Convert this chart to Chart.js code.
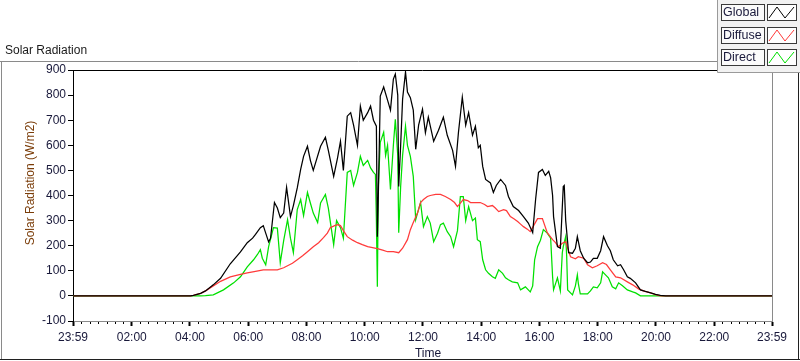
<!DOCTYPE html>
<html>
<head>
<meta charset="utf-8">
<script src="https://cdn.jsdelivr.net/npm/chart.js@4/dist/chart.umd.min.js"></script>
<style>
  html, body { margin: 0; padding: 0; background: #fff; }
  #wrap { width: 800px; height: 361px; }
</style>
</head>
<body>
<div id="wrap"><canvas id="myChart" width="800" height="361"></canvas></div>
<script>
// Series: time of day (HH:MM) and W/m2
var globalTimes = [
  '00:00','04:01','04:07','04:22','04:32','04:48','05:03','05:23','05:44','05:58',
  '06:09','06:15','06:25','06:31','06:36','06:42','06:46','06:54','07:00','07:06',
  '07:13','07:19','07:27','07:33','07:41','07:48','07:54','08:02','08:08','08:14',
  '08:29','08:39','08:45','08:56','09:04','09:10','09:16','09:24','09:31','09:37',
  '09:45','09:51','09:57','10:06','10:12','10:18','10:24','10:26','10:28','10:32',
  '10:39','10:47','10:53','10:59','11:03','11:08','11:10','11:14','11:18','11:24',
  '11:28','11:34','11:40','11:45','11:51','11:59','12:05','12:11','12:22','12:32',
  '12:42','12:50','13:01','13:07','13:13','13:21','13:28','13:34','13:42','13:48',
  '13:54','13:58','14:03','14:09','14:19','14:25','14:31','14:40','14:50','14:56',
  '15:06','15:17','15:27','15:37','15:46','15:52','15:58','16:06','16:12','16:19',
  '16:23','16:27','16:29','16:37','16:43','16:49','16:51','16:54','17:00','17:08',
  '17:14','17:18','17:24','17:31','17:39','17:45','17:51','17:59','18:06','18:12',
  '18:20','18:26','18:32','18:41','18:47','18:53','19:01','19:07','19:18','19:28',
  '19:38','19:49','19:59','20:09','20:20','23:59'
];
var globalValues = [
  0, 0, 2, 10, 20, 44, 70, 128, 175, 212,
  230, 245, 272, 280, 250, 215, 230, 372, 350, 312,
  330, 432, 316, 360, 430, 504, 556, 596, 540, 500,
  596, 632, 580, 476, 550, 616, 500, 716, 730, 680,
  600, 756, 700, 730, 756, 700, 676, 236, 400, 796,
  832, 780, 740, 864, 884, 800, 436, 600, 784, 892,
  812, 790, 740, 584, 680, 744, 650, 712, 616, 660,
  712, 640, 580, 516, 650, 792, 680, 730, 640, 676,
  590, 600, 516, 464, 450, 412, 440, 464, 440, 396,
  356, 340, 316, 290, 252, 384, 492, 504, 480, 496,
  470, 400, 316, 196, 190, 436, 440, 300, 172, 170,
  190, 236, 180, 150, 132, 135, 150, 150, 180, 236,
  200, 180, 144, 120, 124, 105, 76, 70, 52, 24,
  18, 12, 6, 2, 0, 0
];

var diffuseTimes = [
  '00:00','04:01','04:07','04:22','04:32','04:48','05:03','05:23','05:44','05:58',
  '06:15','06:31','06:46','07:00','07:13','07:21','07:31','07:41','07:52','08:02',
  '08:14','08:25','08:35','08:43','08:49','08:58','09:04','09:10','09:16','09:24',
  '09:35','09:45','09:55','10:06','10:16','10:26','10:37','10:47','10:59','11:10',
  '11:18','11:28','11:34','11:40','11:49','11:55','12:01','12:09','12:15','12:26',
  '12:36','12:46','12:57','13:05','13:11','13:17','13:23','13:32','13:38','13:48',
  '13:58','14:07','14:13','14:23','14:29','14:36','14:46','14:52','15:00','15:08',
  '15:15','15:21','15:27','15:35','15:41','15:48','15:56','16:06','16:16','16:27',
  '16:33','16:39','16:47','16:54','16:58','17:04','17:14','17:20','17:31','17:39',
  '17:49','17:59','18:10','18:18','18:26','18:37','18:47','19:01','19:12','19:24',
  '19:34','19:49','19:59','20:09','23:59'
];
var diffuseValues = [
  0, 0, 2, 10, 20, 40, 58, 76, 86, 92,
  98, 104, 104, 104, 112, 120, 130, 144, 160, 176,
  196, 212, 232, 250, 272, 280, 284, 280, 260, 236,
  222, 212, 204, 196, 192, 188, 182, 176, 176, 172,
  190, 224, 264, 292, 332, 372, 384, 396, 400, 404,
  404, 396, 384, 372, 356, 370, 384, 380, 372, 372,
  372, 364, 356, 360, 350, 336, 344, 340, 316, 306,
  296, 286, 276, 266, 256, 280, 308, 308, 252, 224,
  212, 196, 210, 216, 190, 156, 148, 156, 150, 124,
  112, 120, 132, 125, 104, 76, 72, 56, 44, 28,
  20, 12, 5, 0, 0
];

var directTimes = [
  '00:00','04:22','04:32','04:48','05:09','05:30','05:44','05:58','06:11','06:19',
  '06:25','06:29','06:36','06:42','06:52','07:00','07:06','07:13','07:21','07:27',
  '07:33','07:41','07:48','07:54','08:02','08:08','08:14','08:23','08:29','08:39',
  '08:45','08:56','09:02','09:10','09:16','09:24','09:31','09:37','09:45','09:51',
  '09:57','10:06','10:12','10:18','10:22','10:24','10:26','10:28','10:32','10:39',
  '10:43','10:47','10:53','10:59','11:03','11:08','11:10','11:14','11:18','11:24',
  '11:28','11:34','11:40','11:45','11:49','11:55','12:01','12:09','12:15','12:22',
  '12:30','12:36','12:42','12:50','12:57','13:03','13:11','13:17','13:23','13:28',
  '13:34','13:42','13:48','13:52','13:58','14:03','14:09','14:15','14:23','14:29',
  '14:36','14:44','14:50','14:56','15:04','15:15','15:21','15:31','15:37','15:41',
  '15:46','15:50','15:56','16:02','16:08','16:16','16:23','16:27','16:29','16:37',
  '16:43','16:47','16:49','16:54','16:56','16:58','17:08','17:14','17:18','17:20',
  '17:24','17:39','17:45','17:51','17:59','18:06','18:10','18:16','18:22','18:30',
  '18:37','18:43','18:51','19:01','19:12','19:18','19:28','23:59'
];
var directValues = [
  0, 0, 1, 4, 24, 52, 76, 116, 144, 165,
  184, 150, 124, 196, 272, 270, 132, 220, 304, 230,
  172, 344, 384, 320, 412, 370, 330, 292, 370, 404,
  350, 204, 300, 272, 230, 492, 500, 440, 492, 556,
  520, 540, 510, 492, 484, 300, 36, 436, 612, 652,
  560, 600, 424, 600, 704, 560, 252, 436, 560, 676,
  600, 556, 476, 304, 332, 372, 276, 316, 290, 216,
  250, 284, 290, 256, 236, 196, 260, 396, 396, 300,
  356, 300, 310, 224, 216, 144, 104, 90, 76, 70,
  104, 90, 72, 64, 56, 52, 24, 36, 24, 16,
  40, 144, 196, 222, 264, 250, 230, 76, 24, 72,
  20, 172, 196, 236, 160, 24, 4, 40, 84, 50,
  8, 8, 20, 36, 32, 52, 96, 84, 72, 36,
  28, 52, 40, 24, 16, 12, 0, 0
];

var seriesNames = ['Global', 'Diffuse', 'Direct'];
var seriesColors = ['#000000', '#ff3a3a', '#00e000'];

var yTicks = [-100, 0, 100, 200, 300, 400, 500, 600, 700, 800, 900];
var xTickLabels = ['23:59', '02:00', '04:00', '06:00', '08:00', '10:00', '12:00',
                   '14:00', '16:00', '18:00', '20:00', '22:00', '23:59'];

// minutes since midnight; the axis runs 23:59 -> 23:59
function toMinutes(t) {
    var p = t.split(':');
    return parseInt(p[0], 10) * 60 + parseInt(p[1], 10);
}
var xMin = -1, xMax = 1439;
var xTickValues = xTickLabels.map(function (l, i) {
    if (i === 0) return xMin;
    if (i === xTickLabels.length - 1) return xMax;
    return toMinutes(l);
});

function points(times, values) {
    return times.map(function (t, i) { return { x: toMinutes(t), y: values[i] }; });
}

var textColor = '#18183a';
var fontName = '"Liberation Sans", Arial, sans-serif';

// frame, extra ticks, titles and legend boxes drawn like the LabVIEW panel
var panelPlugin = {
    id: 'panel',
    beforeDraw: function (chart) {
        var ctx = chart.ctx;
        ctx.save();
        ctx.fillStyle = '#ffffff';
        ctx.fillRect(0, 0, chart.width, chart.height);
        ctx.restore();
    },
    afterDraw: function (chart) {
        var ctx = chart.ctx;
        var a = chart.chartArea;
        var xs = chart.scales.x;
        ctx.save();

        // outer frame
        ctx.lineWidth = 1;
        ctx.strokeStyle = '#8a8a8a';
        ctx.beginPath();
        ctx.moveTo(0, 61.5); ctx.lineTo(717, 61.5);
        ctx.moveTo(1.5, 61); ctx.lineTo(1.5, 360);
        ctx.stroke();
        ctx.strokeStyle = '#202020';
        ctx.beginPath();
        ctx.moveTo(0, 359.5); ctx.lineTo(800, 359.5);
        ctx.moveTo(798.5, 72); ctx.lineTo(798.5, 360);
        ctx.stroke();

        // plot top (black) and right (gray) edges
        ctx.strokeStyle = '#000';
        ctx.beginPath();
        ctx.moveTo(a.left, Math.round(a.top) + 0.5);
        ctx.lineTo(a.right, Math.round(a.top) + 0.5);
        ctx.stroke();
        ctx.strokeStyle = '#8a8a8a';
        ctx.beginPath();
        ctx.moveTo(Math.round(a.right) + 0.5, a.top);
        ctx.lineTo(Math.round(a.right) + 0.5, a.bottom);
        ctx.stroke();

        // minor ticks on the time axis
        ctx.strokeStyle = '#000';
        ctx.beginPath();
        for (var i = 0; i < xTickValues.length - 1; i++) {
            var v0 = xTickValues[i], v1 = xTickValues[i + 1];
            for (var k = 1; k < 7; k++) {
                var px = Math.round(xs.getPixelForValue(v0 + (v1 - v0) * k / 7)) + 0.5;
                ctx.moveTo(px, a.bottom + 1);
                ctx.lineTo(px, a.bottom + 3);
            }
        }
        ctx.stroke();

        // titles
        ctx.font = '12px ' + fontName;
        ctx.textBaseline = 'middle';
        ctx.fillStyle = '#1a1a1a';
        ctx.textAlign = 'left';
        ctx.fillText('Solar Radiation', 5, 51);
        ctx.fillStyle = textColor;
        ctx.textAlign = 'center';
        ctx.fillText('Time', 428, 354);
        ctx.save();
        ctx.translate(31, 183);
        ctx.rotate(-Math.PI / 2);
        ctx.fillStyle = '#7a3c08';
        ctx.fillText('Solar Radiation (W/m2)', 0, 0);
        ctx.restore();

        // legend panel
        ctx.fillStyle = '#f2f2f2';
        ctx.fillRect(717, 0, 83, 72);
        ctx.strokeStyle = '#9a9a9a';
        ctx.beginPath();
        ctx.moveTo(717.5, 0); ctx.lineTo(717.5, 72.5); ctx.lineTo(800, 72.5);
        ctx.stroke();
        ctx.font = '12.5px ' + fontName;
        for (var r = 0; r < seriesNames.length; r++) {
            var y0 = 4 + Math.round(r * 22.5);
            ctx.fillStyle = '#fbfbfb';
            ctx.fillRect(721, y0, 43, 16);
            ctx.strokeStyle = '#3a3a3a';
            ctx.strokeRect(721.5, y0 + 0.5, 43, 16);
            ctx.fillStyle = textColor;
            ctx.textAlign = 'left';
            ctx.fillText(seriesNames[r], 723, y0 + 9);
            ctx.fillStyle = '#ffffff';
            ctx.fillRect(767, y0, 29, 16);
            ctx.strokeStyle = '#3a3a3a';
            ctx.strokeRect(767.5, y0 + 0.5, 29, 16);
            ctx.strokeStyle = seriesColors[r];
            ctx.beginPath();
            ctx.moveTo(769, y0 + 14);
            ctx.lineTo(777, y0 + 3);
            ctx.lineTo(785, y0 + 14);
            ctx.lineTo(794, y0 + 3);
            ctx.stroke();
        }
        ctx.restore();
    }
};

var element = document.getElementById('myChart').getContext('2d');

var chartData = {
    datasets: [
        { label: seriesNames[0], data: points(globalTimes, globalValues) },
        { label: seriesNames[1], data: points(diffuseTimes, diffuseValues) },
        { label: seriesNames[2], data: points(directTimes, directValues) }
    ].map(function (d, i) {
        d.borderColor = seriesColors[i];
        d.backgroundColor = seriesColors[i];
        d.borderWidth = 1.25;
        d.pointRadius = 0;
        d.tension = 0;
        d.fill = false;
        return d;
    })
};

var chartOptions = {
    responsive: false,
    animation: false,
    layout: { padding: { left: 0, right: 28, top: 70, bottom: 0 } },
    plugins: { legend: { display: false }, tooltip: { enabled: false } },
    scales: {
        x: {
            type: 'linear',
            min: xMin,
            max: xMax,
            afterBuildTicks: function (scale) {
                scale.ticks = xTickValues.map(function (v) { return { value: v }; });
            },
            afterFit: function (scale) { scale.height = 40; },
            border: { display: true, color: '#8a8a8a', width: 1 },
            grid: { drawOnChartArea: false, drawTicks: true, tickLength: 5, tickWidth: 2, tickColor: '#000' },
            ticks: {
                autoSkip: false,
                maxRotation: 0,
                padding: 4,
                color: textColor,
                font: { family: fontName, size: 12 },
                callback: function (v, i) { return xTickLabels[i]; }
            }
        },
        y: {
            min: -100,
            max: 900,
            afterBuildTicks: function (scale) {
                scale.ticks = yTicks.map(function (v) { return { value: v }; });
            },
            afterFit: function (scale) { scale.width = 73; },
            border: { display: true, color: '#000', width: 1 },
            grid: { drawOnChartArea: false, drawTicks: true, tickLength: 5, tickColor: '#000' },
            ticks: {
                padding: 2,
                color: textColor,
                font: { family: fontName, size: 12 }
            }
        }
    }
};

var chart = new Chart(element, { type: 'line', data: chartData, options: chartOptions, plugins: [panelPlugin] });
</script>
</body>
</html>
